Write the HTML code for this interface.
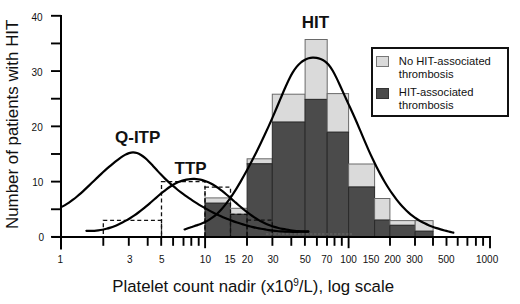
<!DOCTYPE html>
<html><head><meta charset="utf-8"><style>
html,body{margin:0;padding:0;background:#fff;}
body{width:520px;height:304px;position:relative;overflow:hidden;font-family:"Liberation Sans",sans-serif;color:#111;}
svg{position:absolute;left:0;top:0;}
.t{position:absolute;white-space:nowrap;line-height:1;}
.xl{font-size:10px;top:254.8px;transform:translateX(-50%);}
.yl{font-size:10px;right:476px;}
.b{font-weight:bold;font-size:17px;}
.leg{position:absolute;left:371px;top:47px;width:134px;height:65.7px;border:2px solid #111;}
.sw{position:absolute;width:11px;height:10px;}
.lt{position:absolute;font-size:11.2px;line-height:12.5px;left:25.8px;}
</style></head><body>

<svg width="520" height="304" viewBox="0 0 520 304">
<rect x="205.0" y="197.9" width="25.5" height="5.3" fill="#dadada" stroke="#6a6a6a" stroke-width="1"/>
<rect x="205.0" y="203.2" width="25.5" height="33.7" fill="#4b4b4b" stroke="#2a2a2a" stroke-width="1"/>
<rect x="230.5" y="208.3" width="16.6" height="6.0" fill="#dadada" stroke="#6a6a6a" stroke-width="1"/>
<rect x="230.5" y="214.3" width="16.6" height="22.6" fill="#4b4b4b" stroke="#2a2a2a" stroke-width="1"/>
<rect x="247.1" y="158.8" width="25.2" height="5.0" fill="#dadada" stroke="#6a6a6a" stroke-width="1"/>
<rect x="247.1" y="163.8" width="25.2" height="73.1" fill="#4b4b4b" stroke="#2a2a2a" stroke-width="1"/>
<rect x="272.3" y="94.2" width="32.8" height="27.9" fill="#dadada" stroke="#6a6a6a" stroke-width="1"/>
<rect x="272.3" y="122.1" width="32.8" height="114.8" fill="#4b4b4b" stroke="#2a2a2a" stroke-width="1"/>
<rect x="305.1" y="39.5" width="22.1" height="59.9" fill="#dadada" stroke="#6a6a6a" stroke-width="1"/>
<rect x="305.1" y="99.4" width="22.1" height="137.5" fill="#4b4b4b" stroke="#2a2a2a" stroke-width="1"/>
<rect x="327.2" y="93.6" width="21.4" height="38.6" fill="#dadada" stroke="#6a6a6a" stroke-width="1"/>
<rect x="327.2" y="132.2" width="21.4" height="104.7" fill="#4b4b4b" stroke="#2a2a2a" stroke-width="1"/>
<rect x="348.6" y="164.0" width="26.0" height="23.0" fill="#dadada" stroke="#6a6a6a" stroke-width="1"/>
<rect x="348.6" y="187.0" width="26.0" height="49.9" fill="#4b4b4b" stroke="#2a2a2a" stroke-width="1"/>
<rect x="374.6" y="198.5" width="15.3" height="21.6" fill="#dadada" stroke="#6a6a6a" stroke-width="1"/>
<rect x="374.6" y="220.1" width="15.3" height="16.8" fill="#4b4b4b" stroke="#2a2a2a" stroke-width="1"/>
<rect x="389.9" y="220.6" width="25.3" height="4.7" fill="#dadada" stroke="#6a6a6a" stroke-width="1"/>
<rect x="389.9" y="225.3" width="25.3" height="11.6" fill="#4b4b4b" stroke="#2a2a2a" stroke-width="1"/>
<rect x="415.2" y="220.6" width="17.9" height="10.6" fill="#dadada" stroke="#6a6a6a" stroke-width="1"/>
<rect x="415.2" y="231.2" width="17.9" height="5.7" fill="#4b4b4b" stroke="#2a2a2a" stroke-width="1"/>
<rect x="103.3" y="220.4" width="58.2" height="16.6" fill="none" stroke="#111" stroke-width="1.3" stroke-dasharray="4,2.8"/>
<rect x="161.5" y="181.6" width="43.5" height="55.4" fill="none" stroke="#111" stroke-width="1.3" stroke-dasharray="4,2.8"/>
<rect x="205.0" y="187.1" width="25.5" height="49.9" fill="none" stroke="#111" stroke-width="1.3" stroke-dasharray="4,2.8"/>
<rect x="230.5" y="214.4" width="16.6" height="22.6" fill="none" stroke="#111" stroke-width="1.3" stroke-dasharray="4,2.8"/>
<rect x="247.1" y="220.2" width="25.2" height="16.8" fill="none" stroke="#111" stroke-width="1.3" stroke-dasharray="4,2.8"/>
<line x1="266" y1="234" x2="352" y2="234" stroke="#6a6a6a" stroke-width="1.2" stroke-dasharray="2.5,1.5"/>
<path d="M61.00,207.20C61.67,206.86 63.67,205.90 65.00,205.14C66.33,204.38 67.67,203.53 69.00,202.63C70.33,201.73 71.67,200.76 73.00,199.74C74.33,198.72 75.67,197.64 77.00,196.53C78.33,195.42 79.67,194.25 81.00,193.06C82.33,191.88 83.67,190.65 85.00,189.40C86.33,188.16 87.67,186.89 89.00,185.62C90.33,184.34 91.67,183.05 93.00,181.76C94.33,180.47 95.67,179.18 97.00,177.90C98.33,176.63 99.67,175.35 101.00,174.11C102.33,172.86 103.67,171.63 105.00,170.43C106.33,169.23 107.67,168.05 109.00,166.90C110.33,165.75 111.67,164.63 113.00,163.54C114.33,162.45 115.67,161.38 117.00,160.35C118.33,159.33 119.67,158.30 121.00,157.38C122.33,156.47 123.67,155.57 125.00,154.86C126.33,154.14 127.67,153.50 129.00,153.09C130.33,152.68 131.67,152.40 133.00,152.38C134.33,152.37 135.67,152.59 137.00,153.02C138.33,153.45 139.67,154.15 141.00,154.97C142.33,155.79 143.67,156.83 145.00,157.95C146.33,159.06 147.67,160.35 149.00,161.68C150.33,163.00 151.67,164.45 153.00,165.88C154.33,167.32 155.67,168.83 157.00,170.29C158.33,171.74 159.67,173.21 161.00,174.61C162.33,176.00 163.67,177.35 165.00,178.65C166.33,179.95 167.67,181.20 169.00,182.42C170.33,183.63 171.67,184.80 173.00,185.94C174.33,187.07 175.67,188.17 177.00,189.24C178.33,190.31 179.67,191.34 181.00,192.35C182.33,193.36 183.67,194.34 185.00,195.31C186.33,196.27 187.67,197.21 189.00,198.13C190.33,199.05 191.67,199.95 193.00,200.82C194.33,201.70 195.67,202.56 197.00,203.39C198.33,204.23 199.67,205.04 201.00,205.83C202.33,206.63 203.67,207.40 205.00,208.15C206.33,208.91 207.67,209.64 209.00,210.35C210.33,211.07 211.67,211.76 213.00,212.43C214.33,213.11 215.67,213.76 217.00,214.39C218.33,215.03 219.67,215.64 221.00,216.24C222.33,216.84 223.67,217.42 225.00,217.97C226.33,218.53 227.67,219.07 229.00,219.60C230.33,220.12 231.67,220.62 233.00,221.11C234.33,221.59 235.67,222.06 237.00,222.51C238.33,222.96 239.67,223.39 241.00,223.81C242.33,224.22 243.67,224.62 245.00,225.00C246.33,225.38 247.67,225.74 249.00,226.09C250.33,226.43 251.67,226.76 253.00,227.08C254.33,227.39 255.67,227.69 257.00,227.97C258.33,228.25 259.67,228.51 261.00,228.76C262.33,229.01 263.67,229.24 265.00,229.46C266.33,229.67 267.67,229.87 269.00,230.06C270.33,230.24 271.67,230.41 273.00,230.57C274.33,230.73 275.67,230.87 277.00,230.99C278.33,231.12 279.67,231.23 281.00,231.33C282.33,231.42 283.67,231.50 285.00,231.57C286.33,231.64 287.67,231.70 289.00,231.74C290.33,231.78 291.67,231.80 293.00,231.82C294.33,231.83 295.67,231.83 297.00,231.82C298.33,231.80 299.67,231.78 301.00,231.74C302.33,231.70 303.78,231.64 305.00,231.58C306.22,231.52 307.75,231.43 308.30,231.40" fill="none" stroke="#000" stroke-width="2.2" stroke-linecap="round"/>
<path d="M86.40,230.81C87.07,230.83 89.07,230.95 90.40,230.95C91.73,230.95 93.07,230.91 94.40,230.82C95.73,230.73 97.07,230.59 98.40,230.41C99.73,230.23 101.07,230.01 102.40,229.74C103.73,229.47 105.07,229.16 106.40,228.80C107.73,228.45 109.07,228.05 110.40,227.61C111.73,227.17 113.07,226.69 114.40,226.16C115.73,225.64 117.07,225.07 118.40,224.47C119.73,223.87 121.07,223.22 122.40,222.54C123.73,221.85 125.07,221.13 126.40,220.37C127.73,219.60 129.07,218.80 130.40,217.97C131.73,217.13 133.07,216.25 134.40,215.34C135.73,214.43 137.07,213.48 138.40,212.50C139.73,211.51 141.07,210.49 142.40,209.44C143.73,208.39 145.07,207.29 146.40,206.17C147.73,205.06 149.07,203.90 150.40,202.75C151.73,201.60 153.07,200.42 154.40,199.26C155.73,198.10 157.07,196.93 158.40,195.79C159.73,194.66 161.07,193.53 162.40,192.45C163.73,191.37 165.07,190.31 166.40,189.32C167.73,188.33 169.07,187.37 170.40,186.49C171.73,185.62 173.07,184.80 174.40,184.07C175.73,183.34 177.07,182.69 178.40,182.11C179.73,181.54 181.07,181.04 182.40,180.62C183.73,180.20 185.07,179.86 186.40,179.60C187.73,179.33 189.07,179.15 190.40,179.04C191.73,178.93 193.07,178.90 194.40,178.94C195.73,178.99 197.07,179.11 198.40,179.32C199.73,179.52 201.07,179.80 202.40,180.15C203.73,180.51 205.07,180.94 206.40,181.46C207.73,181.97 209.07,182.56 210.40,183.22C211.73,183.89 213.07,184.64 214.40,185.45C215.73,186.27 217.07,187.18 218.40,188.13C219.73,189.08 221.07,190.11 222.40,191.17C223.73,192.23 225.07,193.35 226.40,194.48C227.73,195.61 229.07,196.78 230.40,197.95C231.73,199.12 233.07,200.31 234.40,201.49C235.73,202.66 237.07,203.85 238.40,205.00C239.73,206.15 241.07,207.29 242.40,208.38C243.73,209.48 245.07,210.55 246.40,211.59C247.73,212.62 249.07,213.62 250.40,214.58C251.73,215.54 253.07,216.46 254.40,217.34C255.73,218.21 257.07,219.05 258.40,219.83C259.73,220.62 261.07,221.36 262.40,222.04C263.73,222.73 265.07,223.36 266.40,223.94C267.73,224.53 269.07,225.06 270.40,225.56C271.73,226.06 273.07,226.50 274.40,226.92C275.73,227.33 277.07,227.70 278.40,228.04C279.73,228.38 281.07,228.68 282.40,228.95C283.73,229.23 285.07,229.47 286.40,229.69C287.73,229.91 289.07,230.10 290.40,230.27C291.73,230.45 293.07,230.60 294.40,230.73C295.73,230.87 297.07,230.99 298.40,231.09C299.73,231.20 301.07,231.29 302.40,231.38C303.73,231.47 305.42,231.57 306.40,231.63C307.38,231.68 307.98,231.72 308.30,231.73" fill="none" stroke="#000" stroke-width="2.2" stroke-linecap="round"/>
<path d="M184.60,229.43C185.27,229.19 187.27,228.46 188.60,228.00C189.93,227.55 191.27,227.13 192.60,226.69C193.93,226.25 195.27,225.83 196.60,225.37C197.93,224.90 199.27,224.44 200.60,223.91C201.93,223.38 203.27,222.83 204.60,222.19C205.93,221.55 207.27,220.88 208.60,220.09C209.93,219.31 211.27,218.46 212.60,217.48C213.93,216.51 215.27,215.45 216.60,214.25C217.93,213.05 219.27,211.72 220.60,210.29C221.93,208.86 223.27,207.30 224.60,205.65C225.93,204.00 227.27,202.24 228.60,200.39C229.93,198.55 231.27,196.60 232.60,194.59C233.93,192.57 235.27,190.46 236.60,188.30C237.93,186.13 239.27,183.88 240.60,181.59C241.93,179.29 243.27,176.93 244.60,174.53C245.93,172.13 247.27,169.67 248.60,167.18C249.93,164.69 251.27,162.15 252.60,159.57C253.93,156.99 255.27,154.36 256.60,151.69C257.93,149.01 259.27,146.29 260.60,143.53C261.93,140.76 263.27,137.95 264.60,135.09C265.93,132.22 267.27,129.32 268.60,126.36C269.93,123.40 271.27,120.39 272.60,117.34C273.93,114.28 275.27,111.17 276.60,108.02C277.93,104.87 279.27,101.61 280.60,98.44C281.93,95.26 283.27,92.01 284.60,88.96C285.93,85.92 287.27,82.89 288.60,80.17C289.93,77.45 291.27,74.86 292.60,72.64C293.93,70.42 295.27,68.50 296.60,66.86C297.93,65.21 299.27,63.90 300.60,62.76C301.93,61.61 303.27,60.73 304.60,59.99C305.93,59.25 307.27,58.71 308.60,58.31C309.93,57.92 311.27,57.70 312.60,57.62C313.93,57.55 315.27,57.64 316.60,57.86C317.93,58.08 319.27,58.41 320.60,58.94C321.93,59.47 323.27,60.06 324.60,61.02C325.93,61.97 327.27,63.10 328.60,64.68C329.93,66.26 331.27,68.26 332.60,70.50C333.93,72.74 335.27,75.41 336.60,78.12C337.93,80.84 339.27,83.85 340.60,86.77C341.93,89.69 343.27,92.72 344.60,95.65C345.93,98.58 347.27,101.44 348.60,104.34C349.93,107.25 351.27,110.10 352.60,113.06C353.93,116.01 355.27,118.99 356.60,122.05C357.93,125.12 359.27,128.29 360.60,131.43C361.93,134.57 363.27,137.78 364.60,140.89C365.93,144.00 367.27,147.12 368.60,150.11C369.93,153.10 371.27,156.02 372.60,158.83C373.93,161.65 375.27,164.37 376.60,167.00C377.93,169.63 379.27,172.17 380.60,174.62C381.93,177.07 383.27,179.43 384.60,181.70C385.93,183.96 387.27,186.14 388.60,188.22C389.93,190.30 391.27,192.29 392.60,194.19C393.93,196.09 395.27,197.90 396.60,199.61C397.93,201.32 399.27,202.95 400.60,204.48C401.93,206.01 403.27,207.44 404.60,208.79C405.93,210.14 407.27,211.40 408.60,212.58C409.93,213.76 411.27,214.86 412.60,215.89C413.93,216.91 415.27,217.86 416.60,218.75C417.93,219.65 419.27,220.46 420.60,221.23C421.93,222.00 423.27,222.70 424.60,223.36C425.93,224.03 427.27,224.63 428.60,225.20C429.93,225.77 431.27,226.29 432.60,226.78C433.93,227.27 435.27,227.72 436.60,228.15C437.93,228.58 439.27,228.98 440.60,229.36C441.93,229.75 443.27,230.11 444.60,230.46C445.93,230.81 447.27,231.15 448.60,231.49C449.93,231.82 451.82,232.29 452.60,232.49C453.38,232.68 453.18,232.63 453.30,232.66" fill="none" stroke="#000" stroke-width="2.2" stroke-linecap="round"/>
<line x1="61" y1="15" x2="61" y2="249.4" stroke="#000" stroke-width="2"/>
<line x1="52" y1="237" x2="491" y2="237" stroke="#000" stroke-width="2"/>
<line x1="51" y1="236.90" x2="61" y2="236.90" stroke="#000" stroke-width="1.9"/>
<line x1="51" y1="209.26" x2="61" y2="209.26" stroke="#000" stroke-width="1.9"/>
<line x1="51" y1="181.62" x2="61" y2="181.62" stroke="#000" stroke-width="1.9"/>
<line x1="51" y1="153.99" x2="61" y2="153.99" stroke="#000" stroke-width="1.9"/>
<line x1="51" y1="126.35" x2="61" y2="126.35" stroke="#000" stroke-width="1.9"/>
<line x1="51" y1="98.71" x2="61" y2="98.71" stroke="#000" stroke-width="1.9"/>
<line x1="51" y1="71.08" x2="61" y2="71.08" stroke="#000" stroke-width="1.9"/>
<line x1="51" y1="43.44" x2="61" y2="43.44" stroke="#000" stroke-width="1.9"/>
<line x1="51" y1="15.80" x2="61" y2="15.80" stroke="#000" stroke-width="1.9"/>
<line x1="103.3" y1="237" x2="103.3" y2="245.8" stroke="#000" stroke-width="1.9"/>
<line x1="128.8" y1="237" x2="128.8" y2="245.8" stroke="#000" stroke-width="1.9"/>
<line x1="147.7" y1="237" x2="147.7" y2="245.8" stroke="#000" stroke-width="1.9"/>
<line x1="161.2" y1="237" x2="161.2" y2="245.8" stroke="#000" stroke-width="1.9"/>
<line x1="173.1" y1="237" x2="173.1" y2="245.8" stroke="#000" stroke-width="1.9"/>
<line x1="183.5" y1="237" x2="183.5" y2="245.8" stroke="#000" stroke-width="1.9"/>
<line x1="191.3" y1="237" x2="191.3" y2="245.8" stroke="#000" stroke-width="1.9"/>
<line x1="198.7" y1="237" x2="198.7" y2="245.8" stroke="#000" stroke-width="1.9"/>
<line x1="205.1" y1="237" x2="205.1" y2="248.2" stroke="#000" stroke-width="1.9"/>
<line x1="247.0" y1="237" x2="247.0" y2="245.8" stroke="#000" stroke-width="1.9"/>
<line x1="272.4" y1="237" x2="272.4" y2="245.8" stroke="#000" stroke-width="1.9"/>
<line x1="291.3" y1="237" x2="291.3" y2="245.8" stroke="#000" stroke-width="1.9"/>
<line x1="304.9" y1="237" x2="304.9" y2="245.8" stroke="#000" stroke-width="1.9"/>
<line x1="316.9" y1="237" x2="316.9" y2="245.8" stroke="#000" stroke-width="1.9"/>
<line x1="327.0" y1="237" x2="327.0" y2="245.8" stroke="#000" stroke-width="1.9"/>
<line x1="334.5" y1="237" x2="334.5" y2="245.8" stroke="#000" stroke-width="1.9"/>
<line x1="341.8" y1="237" x2="341.8" y2="245.8" stroke="#000" stroke-width="1.9"/>
<line x1="348.6" y1="237" x2="348.6" y2="248.2" stroke="#000" stroke-width="1.9"/>
<line x1="390.0" y1="237" x2="390.0" y2="245.8" stroke="#000" stroke-width="1.9"/>
<line x1="415.0" y1="237" x2="415.0" y2="245.8" stroke="#000" stroke-width="1.9"/>
<line x1="433.0" y1="237" x2="433.0" y2="245.8" stroke="#000" stroke-width="1.9"/>
<line x1="446.5" y1="237" x2="446.5" y2="245.8" stroke="#000" stroke-width="1.9"/>
<line x1="457.7" y1="237" x2="457.7" y2="245.8" stroke="#000" stroke-width="1.9"/>
<line x1="467.4" y1="237" x2="467.4" y2="245.8" stroke="#000" stroke-width="1.9"/>
<line x1="475.9" y1="237" x2="475.9" y2="245.8" stroke="#000" stroke-width="1.9"/>
<line x1="483.1" y1="237" x2="483.1" y2="245.8" stroke="#000" stroke-width="1.9"/>
<line x1="490.0" y1="237" x2="490.0" y2="248.2" stroke="#000" stroke-width="1.9"/>
</svg>
<div class="t xl" style="left:60.4px">1</div>
<div class="t xl" style="left:129.7px">3</div>
<div class="t xl" style="left:161.9px">5</div>
<div class="t xl" style="left:205.4px">10</div>
<div class="t xl" style="left:230.1px">15</div>
<div class="t xl" style="left:247.4px">20</div>
<div class="t xl" style="left:273.0px">30</div>
<div class="t xl" style="left:305.2px">50</div>
<div class="t xl" style="left:326.7px">70</div>
<div class="t xl" style="left:348.6px">100</div>
<div class="t xl" style="left:371.0px">150</div>
<div class="t xl" style="left:392.6px">200</div>
<div class="t xl" style="left:414.6px">300</div>
<div class="t xl" style="left:446.3px">500</div>
<div class="t xl" style="left:487.1px">1000</div>
<div class="t yl" style="top:232.9px;right:476.0px">0</div>
<div class="t yl" style="top:178.3px;right:476.7px">10</div>
<div class="t yl" style="top:123.1px;right:477.3px">20</div>
<div class="t yl" style="top:67.5px;right:477.5px">30</div>
<div class="t yl" style="top:12.5px;right:477.5px">40</div>
<div class="t b" style="left:301.8px;top:14px">HIT</div>
<div class="t b" style="left:115px;top:129px">Q-ITP</div>
<div class="t b" style="left:174.5px;top:160px">TTP</div>
<div class="t" style="font-size:16.8px;left:112.3px;top:277.5px">Platelet count nadir (x10<span style="font-size:10px;vertical-align:5.5px">9</span>/L), log scale</div>
<div class="t" style="font-size:16.9px;left:5.4px;top:229px;transform-origin:0 0;transform:rotate(-90deg)">Number of patients with HIT</div>
<div class="leg">
<div class="sw" style="left:3.2px;top:6.9px;width:11.3px;height:8.9px;background:#dadada;border:1px solid #777"></div>
<div class="lt" style="top:6.3px">No HIT-associated<br>thrombosis</div>
<div class="sw" style="left:3.3px;top:38.9px;width:10.8px;height:8.8px;background:#4b4b4b;border:1px solid #333"></div>
<div class="lt" style="top:37.3px">HIT-associated<br>thrombosis</div>
</div>
</body></html>
